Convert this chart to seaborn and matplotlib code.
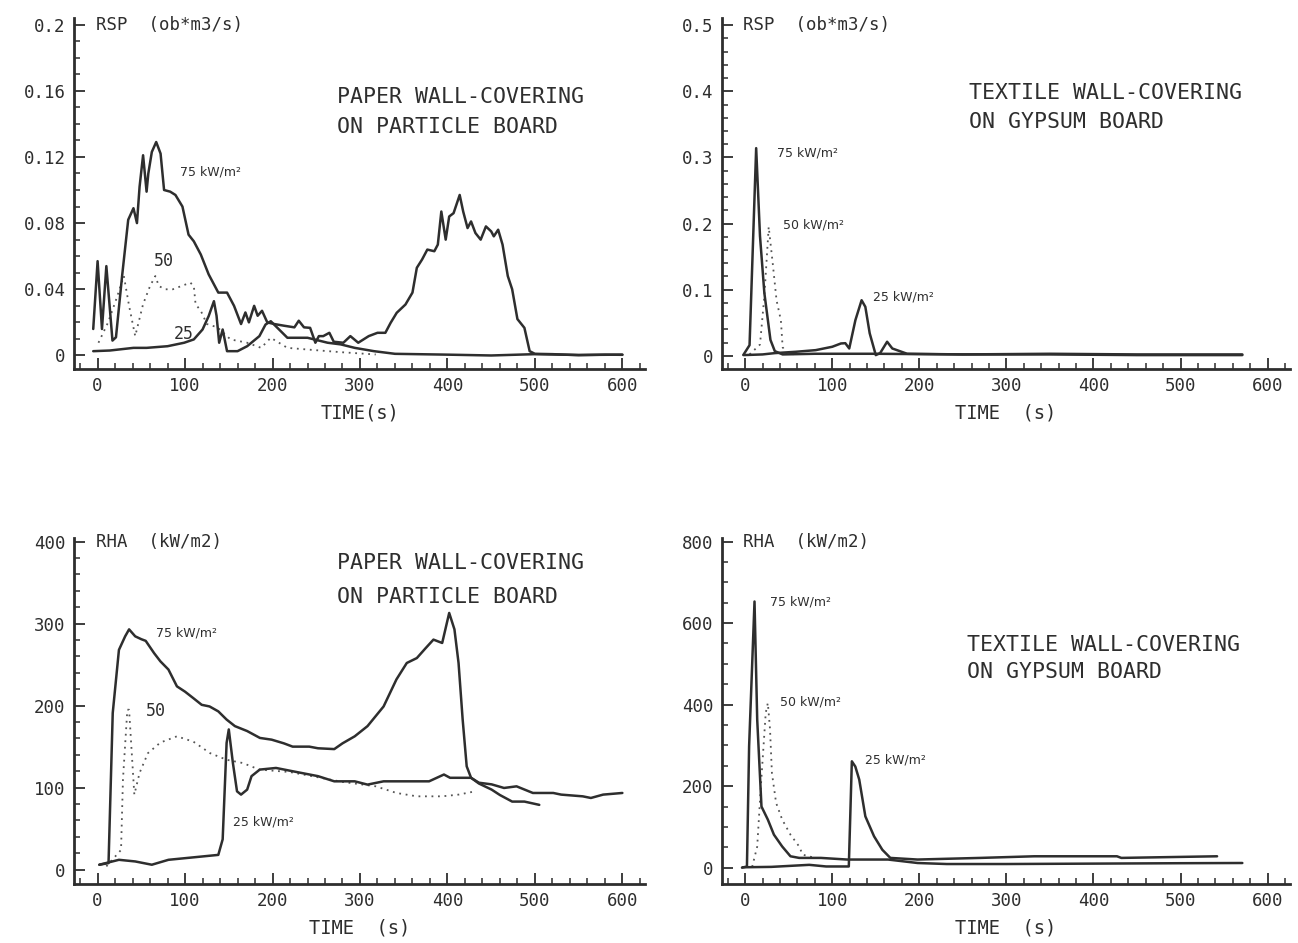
import matplotlib
matplotlib.use("Agg")
import matplotlib.pyplot as plt
import seaborn as sns
from matplotlib.ticker import MultipleLocator

# RSP, paper wall-covering on particle board
rsp_p_t75 = [-5, 0, 5, 10, 17, 21, 28, 35, 41, 45, 48, 52, 56, 58, 62, 67, 72, 76, 83, 89, 97, 104, 110,
             118, 127, 131, 138, 148, 156, 164, 169, 173, 179, 183, 188, 194, 202, 213, 225, 230, 236,
             243, 249, 253, 258, 265, 270, 281, 289, 298, 310, 320, 329, 335, 342, 352, 360, 365, 371,
             377, 385, 389, 393, 398, 402, 407, 414, 418, 423, 427, 432, 438, 444, 450, 453, 458, 463,
             469, 474, 480, 488, 494, 500, 520, 550, 580, 600]
rsp_p_v75 = [0.016, 0.057, 0.016, 0.054, 0.009, 0.011, 0.048, 0.082, 0.089, 0.080, 0.102, 0.121, 0.099,
             0.110, 0.123, 0.129, 0.122, 0.100, 0.099, 0.097, 0.090, 0.073, 0.069, 0.061, 0.049, 0.045,
             0.038, 0.038, 0.030, 0.019, 0.026, 0.020, 0.030, 0.024, 0.027, 0.020, 0.019, 0.018, 0.017,
             0.021, 0.017, 0.0167, 0.0077, 0.0117, 0.0117, 0.0137, 0.0083, 0.0077, 0.0117, 0.0077,
             0.0117, 0.0137, 0.0137, 0.0197, 0.0258, 0.0308, 0.038, 0.053, 0.058, 0.064, 0.063, 0.067,
             0.087, 0.070, 0.084, 0.086, 0.097, 0.087, 0.077, 0.081, 0.074, 0.070, 0.078, 0.075, 0.072,
             0.076, 0.067, 0.048, 0.040, 0.022, 0.0167, 0.0026, 0.001, 0.0008, 0.0002, 0.0005, 0.0004]
rsp_p_t50 = [1, 12, 22, 30, 36, 43, 52, 60, 66, 70, 77, 86, 96, 106, 110, 112, 118, 125, 137, 152, 171,
             187, 198, 217, 240, 278, 318]
rsp_p_v50 = [0.0077, 0.02, 0.035, 0.048, 0.03, 0.0117, 0.031, 0.042, 0.048, 0.042, 0.040, 0.040, 0.042,
             0.044, 0.042, 0.031, 0.027, 0.019, 0.017, 0.0097, 0.0077, 0.0046, 0.0107, 0.0046, 0.0036,
             0.002, 0.0006]
rsp_p_t25 = [-5, 14, 41, 56, 80, 99, 110, 120, 127, 133, 136, 139, 143, 148, 160, 171, 185, 192, 198,
             217, 240, 263, 278, 294, 316, 340, 400, 450, 500, 550, 600]
rsp_p_v25 = [0.0026, 0.003, 0.0046, 0.0046, 0.0056, 0.0077, 0.0097, 0.0157, 0.0238, 0.0328, 0.024,
             0.0077, 0.0157, 0.0026, 0.0026, 0.0056, 0.0117, 0.0187, 0.0207, 0.0107, 0.0107, 0.0077,
             0.0067, 0.0046, 0.0026, 0.001, 0.0005, 0.0, 0.0008, 0.0003, 0.0005]

# RSP, textile wall-covering on gypsum board
rsp_t_t75 = [-2, 5, 12.6, 17, 22, 29, 34, 43, 80, 150, 250, 350, 450, 571]
rsp_t_v75 = [0.0015, 0.016, 0.314, 0.181, 0.095, 0.024, 0.007, 0.002, 0.003, 0.003, 0.002, 0.003,
             0.002, 0.002]
rsp_t_t50 = [5, 17, 22, 27, 31.6, 36, 41, 43, 48, 60]
rsp_t_v50 = [0.002, 0.017, 0.09, 0.195, 0.14, 0.084, 0.0535, 0.013, 0.003, 0.002]
rsp_t_t25 = [-2, 20, 34, 58, 81, 100, 110, 115, 119.5, 126.6, 133.7, 138, 143, 150, 155, 163, 169, 186,
             250, 350, 450, 571]
rsp_t_v25 = [0.001, 0.002, 0.004, 0.006, 0.0085, 0.0136, 0.0186, 0.019, 0.011, 0.054, 0.084, 0.074,
             0.034, 0.001, 0.004, 0.0212, 0.011, 0.003, 0.002, 0.002, 0.001, 0.001]

# RHA, paper wall-covering on particle board
rha_p_t75 = [2, 12.5, 17.3, 24.4, 31.5, 36, 43, 50, 55, 64.6, 71.8, 81, 90.7, 100, 109.6, 119, 128, 138,
             147.5, 157, 171, 185.6, 199, 213, 223, 242, 252, 270.6, 280, 294, 308.6, 327, 341.7, 353.5,
             365, 375, 384, 394, 402, 408, 412.7, 417.4, 422, 427, 436, 450.5, 460, 474, 488, 505]
rha_p_v75 = [6, 8, 191, 268, 284.5, 293, 284.5, 281, 279, 264, 254, 244, 223.5, 217, 209, 201, 199, 193,
             183, 175, 169, 160.6, 158.5, 154, 150, 150, 148, 147, 154, 162.6, 175, 199, 232, 252, 258,
             270, 280.5, 276.4, 313, 293, 252, 183, 126, 112, 105, 97.6, 91, 83, 83, 79]
rha_p_t50 = [10, 26.8, 29, 34, 36, 38.6, 42, 48, 57.5, 71.8, 90.7, 109.6, 128.7, 147.5, 166, 185, 220,
             280, 318, 341.7, 365, 394, 412.7, 431.7]
rha_p_v50 = [4, 24, 110, 195, 195, 150, 91.5, 118, 142, 155, 162.6, 156, 142, 134, 130, 122, 119, 107,
             101.6, 93.5, 89.4, 89.4, 91.5, 95.5]
rha_p_t25 = [2, 24.4, 43, 62, 81, 100, 119, 138, 143, 147.5, 150, 154.7, 159.4, 164, 171, 176, 185.4,
             204, 223, 252, 270.6, 294, 308.6, 327, 365, 379, 396, 403, 427, 436, 450.5, 464.7, 479,
             497.7, 521, 530, 554.7, 564, 578, 600]
rha_p_v25 = [6, 12, 10, 6, 12, 14, 16, 18, 37, 154.5, 171, 130, 95.5, 91.5, 97.6, 114, 122, 124, 120,
             114, 107.7, 107.7, 103.7, 107.7, 107.7, 107.7, 116, 112, 112, 106, 104, 99.6, 101.6, 93.5,
             93.5, 91.5, 89.4, 87.4, 91.5, 93.5]

# RHA, textile wall-covering on gypsum board
rha_t_t75 = [-3.7, 2, 4.5, 10.7, 13.8, 18.7, 26, 33, 42.5, 52, 62, 87, 117, 164, 198, 231.5, 300, 400,
             500, 571]
rha_t_v75 = [0, 3, 298, 653, 363, 150, 118, 81, 52, 28, 24, 24, 20, 20, 11.5, 9, 9, 10, 11, 11.5]
rha_t_t50 = [8, 13.8, 18, 23.6, 26, 28.5, 30.7, 35.5, 42.5, 52, 62, 66, 80]
rha_t_v50 = [2, 52, 200, 380, 404, 340, 232, 159, 118, 81, 52, 32, 24]
rha_t_t25 = [-3, 30, 73.6, 93, 119, 122.5, 126.5, 131, 138, 148, 157.5, 166.7, 198, 270, 332, 427, 432,
             542]
rha_t_v25 = [1, 2, 7, 3, 3, 261, 248, 216, 126, 77, 44, 24, 20, 24, 28, 28, 24, 28]

sns.set_theme(style="white")
plt.rcParams["font.family"] = ["DejaVu Sans Mono", "DejaVu Sans"]

ink = "#2e2e2e"
mono = "DejaVu Sans Mono"

fig = plt.figure(figsize=(12.98, 9.43), dpi=100)
ax_tl = fig.add_axes([0.057, 0.609, 0.440, 0.372])
ax_tr = fig.add_axes([0.556, 0.609, 0.438, 0.372])
ax_bl = fig.add_axes([0.057, 0.063, 0.440, 0.367])
ax_br = fig.add_axes([0.556, 0.063, 0.438, 0.367])


def draw(ax, t, v, dotted=False):
    if dotted:
        sns.lineplot(x=t, y=v, ax=ax, color="#555555", linewidth=1.3, linestyle=(0, (1, 2.6)),
                     estimator=None, sort=False)
    else:
        sns.lineplot(x=t, y=v, ax=ax, color=ink, linewidth=1.8, estimator=None, sort=False)


def style(ax, ylim, yticks, ylabels, yminor, xlabel, ylab_text):
    ax.set_xlim(-27, 626)
    ax.set_ylim(*ylim)
    ax.set_xticks([0, 100, 200, 300, 400, 500, 600])
    ax.set_xticklabels(["0", "100", "200", "300", "400", "500", "600"])
    ax.xaxis.set_minor_locator(MultipleLocator(20))
    ax.set_yticks(yticks)
    ax.set_yticklabels(ylabels)
    ax.yaxis.set_minor_locator(MultipleLocator(yminor))
    for s in ["top", "right"]:
        ax.spines[s].set_visible(False)
    for s in ["left", "bottom"]:
        ax.spines[s].set_linewidth(2)
        ax.spines[s].set_color(ink)
    ax.tick_params(which="major", direction="in", length=8, width=1.3, color=ink,
                   labelsize=12.5, labelcolor=ink, left=True, bottom=True, pad=6)
    ax.tick_params(which="minor", direction="in", length=4.5, width=1.1, color=ink,
                   left=True, bottom=True)
    for lab in ax.get_xticklabels() + ax.get_yticklabels():
        lab.set_fontfamily(mono)
    ax.set_xlabel(xlabel, fontsize=13.5, color=ink, family=mono, labelpad=6)
    ax.set_ylabel("")
    ax.text(0.038, yticks[-1], ylab_text, transform=ax.get_yaxis_transform(), fontsize=12.5,
            color=ink, family=mono, va="center", ha="left")


title_size = 15.5

# top left
draw(ax_tl, rsp_p_t50, rsp_p_v50, dotted=True)
draw(ax_tl, rsp_p_t25, rsp_p_v25)
draw(ax_tl, rsp_p_t75, rsp_p_v75)
style(ax_tl, (-0.008, 0.204), [0, 0.04, 0.08, 0.12, 0.16, 0.2],
      ["0", "0.04", "0.08", "0.12", "0.16", "0.2"], 0.01, "TIME(s)", "RSP  (ob*m3/s)")
ax_tl.text(274, 0.1565, "PAPER WALL-COVERING", fontsize=title_size, family=mono, color=ink, va="center")
ax_tl.text(274, 0.1378, "ON PARTICLE BOARD", fontsize=title_size, family=mono, color=ink, va="center")
ax_tl.text(94, 0.1106, "75 kW/m²", fontsize=9, family="DejaVu Sans", color=ink, va="center")
ax_tl.text(64, 0.057, "50", fontsize=12, family=mono, color=ink, va="center")
ax_tl.text(87, 0.0127, "25", fontsize=12, family=mono, color=ink, va="center")

# top right
draw(ax_tr, rsp_t_t50, rsp_t_v50, dotted=True)
draw(ax_tr, rsp_t_t25, rsp_t_v25)
draw(ax_tr, rsp_t_t75, rsp_t_v75)
style(ax_tr, (-0.0196, 0.511), [0, 0.1, 0.2, 0.3, 0.4, 0.5],
      ["0", "0.1", "0.2", "0.3", "0.4", "0.5"], 0.02, "TIME  (s)", "RSP  (ob*m3/s)")
ax_tr.text(257, 0.397, "TEXTILE WALL-COVERING", fontsize=title_size, family=mono, color=ink, va="center")
ax_tr.text(257, 0.353, "ON GYPSUM BOARD", fontsize=title_size, family=mono, color=ink, va="center")
ax_tr.text(37, 0.307, "75 kW/m²", fontsize=9, family="DejaVu Sans", color=ink, va="center")
ax_tr.text(43, 0.198, "50 kW/m²", fontsize=9, family="DejaVu Sans", color=ink, va="center")
ax_tr.text(147, 0.089, "25 kW/m²", fontsize=9, family="DejaVu Sans", color=ink, va="center")

# bottom left
draw(ax_bl, rha_p_t50, rha_p_v50, dotted=True)
draw(ax_bl, rha_p_t25, rha_p_v25)
draw(ax_bl, rha_p_t75, rha_p_v75)
style(ax_bl, (-17, 405), [0, 100, 200, 300, 400], ["0", "100", "200", "300", "400"], 20,
      "TIME  (s)", "RHA  (kW/m2)")
ax_bl.text(274, 374, "PAPER WALL-COVERING", fontsize=title_size, family=mono, color=ink, va="center")
ax_bl.text(274, 333, "ON PARTICLE BOARD", fontsize=title_size, family=mono, color=ink, va="center")
ax_bl.text(67, 289, "75 kW/m²", fontsize=9, family="DejaVu Sans", color=ink, va="center")
ax_bl.text(55, 193, "50", fontsize=12, family=mono, color=ink, va="center")
ax_bl.text(155, 58, "25 kW/m²", fontsize=9, family="DejaVu Sans", color=ink, va="center")

# bottom right
draw(ax_br, rha_t_t50, rha_t_v50, dotted=True)
draw(ax_br, rha_t_t25, rha_t_v25)
draw(ax_br, rha_t_t75, rha_t_v75)
style(ax_br, (-39, 810), [0, 200, 400, 600, 800], ["0", "200", "400", "600", "800"], 50,
      "TIME  (s)", "RHA  (kW/m2)")
ax_br.text(255, 547, "TEXTILE WALL-COVERING", fontsize=title_size, family=mono, color=ink, va="center")
ax_br.text(255, 479, "ON GYPSUM BOARD", fontsize=title_size, family=mono, color=ink, va="center")
ax_br.text(29, 653, "75 kW/m²", fontsize=9, family="DejaVu Sans", color=ink, va="center")
ax_br.text(40, 407, "50 kW/m²", fontsize=9, family="DejaVu Sans", color=ink, va="center")
ax_br.text(138, 265, "25 kW/m²", fontsize=9, family="DejaVu Sans", color=ink, va="center")

fig.savefig("out.png", dpi=100, facecolor="white")
